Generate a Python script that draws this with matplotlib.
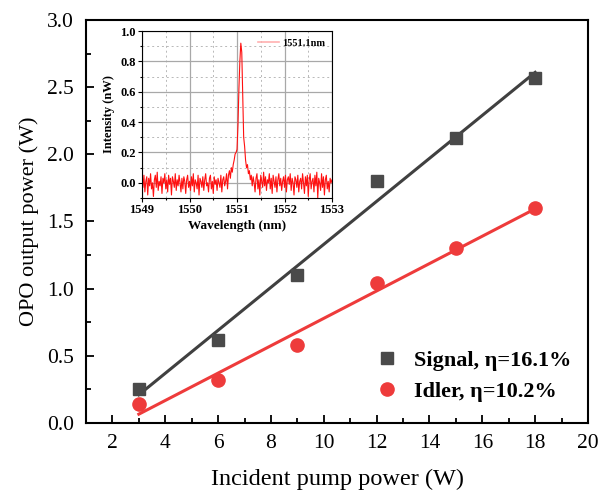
import numpy as np
import matplotlib
matplotlib.use("Agg")
import matplotlib.pyplot as plt
from matplotlib.ticker import MultipleLocator

# ---- data ----
pump_power = [3, 6, 9, 12, 15, 18]
signal_power = [0.25, 0.62, 1.10, 1.80, 2.12, 2.57]
idler_power = [0.14, 0.32, 0.58, 1.04, 1.30, 1.60]
signal_label = "Signal, η=16.1%"
idler_label = "Idler, η=10.2%"

wl_start, wl_step = 1549.0, 0.02
spectrum = [
    0.02, -0.03, 0.05, -0.06, 0.01, 0.04, -0.08, 0.03, -0.02, 0.06,
    -0.04, 0.00, -0.09, 0.02, 0.05, -0.03, 0.07, -0.05, 0.01, -0.02,
    0.04, -0.07, 0.03, 0.00, 0.06, -0.04, 0.02, -0.06, 0.05, -0.01,
    0.03, -0.08, 0.04, 0.01, -0.03, 0.06, -0.05, 0.02, -0.02, 0.05,
    0.00, -0.06, 0.03, -0.04, 0.04, 0.01, -0.07, 0.02, 0.05, -0.03,
    0.01, -0.05, 0.04, -0.02, 0.06, -0.06, 0.02, 0.00, -0.04, 0.05,
    -0.08, 0.03, 0.01, -0.03, 0.04, -0.05, 0.02, 0.06, -0.02, 0.00,
    -0.06, 0.03, 0.05, -0.04, 0.01, -0.07, 0.04, -0.01, 0.02, -0.05,
    0.03, 0.00, -0.03, 0.05, -0.06, 0.02, 0.04, -0.02, 0.01, 0.06,
    -0.04, 0.05, 0.08, 0.03, 0.10, 0.07, 0.12, 0.15, 0.19, 0.20,
    0.22, 0.38, 0.62, 0.80, 0.92, 0.86, 0.58, 0.30, 0.24, 0.15,
    0.10, 0.12, 0.06, 0.08, 0.02, 0.05, -0.02, 0.04, 0.00, -0.06,
    0.03, 0.06, -0.04, 0.02, -0.08, 0.05, 0.01, -0.03, 0.07, -0.02,
    0.04, -0.05, 0.02, 0.00, 0.06, -0.04, 0.03, -0.07, 0.05, 0.01,
    -0.03, 0.04, -0.06, 0.02, 0.06, -0.02, 0.03, -0.05, 0.01, 0.04,
    -0.03, 0.05, -0.06, 0.02, 0.04, -0.01, 0.06, -0.05, 0.03, 0.00,
    -0.08, 0.04, 0.02, -0.03, 0.05, -0.06, 0.01, 0.03, -0.04, 0.06,
    0.00, -0.07, 0.04, -0.02, 0.05, -0.09, 0.02, 0.06, -0.04, 0.01,
    0.03, -0.06, 0.05, -0.02, 0.07, -0.10, 0.03, 0.00, -0.05, 0.06,
    -0.03, 0.04, -0.08, 0.02, 0.05, -0.04, 0.01, -0.06, 0.03, 0.00,
    0.02,
]
spectrum_label = "1551.1nm"

plt.rcParams['font.family'] = ['Liberation Serif', 'DejaVu Serif']
plt.rcParams['mathtext.fontset'] = 'stix'

fig = plt.figure(figsize=(5.98, 4.97), dpi=100)
ax = fig.add_axes([0.1438, 0.1489, 0.9833 - 0.1438, 0.9598 - 0.1489])

dark = '#4a4a4a'
red = '#ee3b3b'

x = np.array(pump_power, dtype=float)
ax.plot(x, signal_power, 's', color=dark, ms=8, label=signal_label, zorder=3)
ax.plot(x, idler_power, 'o', color=red, ms=9.5, label=idler_label, zorder=3)
ps = np.polyfit(x, signal_power, 1)
pi = np.polyfit(x, idler_power, 1)
ax.plot(x, np.polyval(ps, x), '-', color='#404040', lw=2.2, zorder=2)
ax.plot(x, np.polyval(pi, x), '-', color=red, lw=2.2, zorder=2)

ax.set_xlim(1, 20)
ax.set_ylim(0, 3.0)
ax.xaxis.set_major_locator(MultipleLocator(2))
ax.xaxis.set_minor_locator(MultipleLocator(1))
ax.yaxis.set_major_locator(MultipleLocator(0.5))
ax.yaxis.set_minor_locator(MultipleLocator(0.25))
ax.yaxis.set_major_formatter(matplotlib.ticker.FormatStrFormatter('%.1f'))
ax.tick_params(which='both', direction='in', top=False, right=False, labelsize=15.5, width=1.3)
ax.tick_params(which='major', length=6)
ax.tick_params(which='minor', length=3.5)
ax.tick_params(axis='y', which='major', pad=8.5)
ax.tick_params(axis='x', which='major', pad=8)
for s in ax.spines.values():
    s.set_linewidth(1.5)
ax.set_xlabel('Incident pump power (W)', fontsize=17.5, labelpad=11)
ax.set_ylabel('OPO output power (W)', fontsize=16, labelpad=6)

leg = ax.legend(loc='lower right', bbox_to_anchor=(1.006, 0.003), frameon=False,
                prop={'weight': 'bold', 'size': 16}, handletextpad=0.6,
                labelspacing=0.45, handlelength=1.2)

# ---- inset ----
ins = fig.add_axes([0.2375, 0.6016, 0.5552 - 0.2375, 0.9376 - 0.6016])
wl = wl_start + wl_step * np.arange(len(spectrum))
line, = ins.plot(wl, spectrum, '-', color='#ff1010', lw=0.8, label=spectrum_label)
ins.set_xlim(1549, 1553)
ins.set_ylim(-0.1, 1.0)
ins.xaxis.set_major_locator(MultipleLocator(1))
ins.xaxis.set_minor_locator(MultipleLocator(0.5))
ins.yaxis.set_major_locator(MultipleLocator(0.2))
ins.yaxis.set_minor_locator(MultipleLocator(0.1))
ins.yaxis.set_major_formatter(matplotlib.ticker.FormatStrFormatter('%.1f'))
ins.grid(which='major', color='#a8a8a8', lw=0.9, ls='-')
ins.grid(which='minor', color='#b8b8b8', lw=0.7, ls=(0, (2, 3)))
ins.set_axisbelow(True)
ins.tick_params(which='both', direction='out', labelsize=9, width=0.8)
ins.tick_params(which='major', length=3)
ins.tick_params(which='minor', length=1.5)
for lab in ins.get_xticklabels() + ins.get_yticklabels():
    lab.set_fontweight('bold')
ins.tick_params(axis='y', pad=1.5)
ins.tick_params(axis='x', pad=1.5)
for s in ins.spines.values():
    s.set_linewidth(0.8)
ins.set_xlabel('Wavelength (nm)', fontsize=9.5, fontweight='bold', labelpad=3)
ins.set_ylabel('Intensity (nW)', fontsize=9, fontweight='bold', labelpad=4)
ileg = ins.legend(loc='upper right', frameon=False, prop={'weight': 'bold', 'size': 7.5},
                  handlelength=2.0, handletextpad=0.3, borderaxespad=0.3)
ileg.legend_handles[0].set_color('#ffb0b0')
ileg.legend_handles[0].set_linewidth(1.2)

fig.savefig('out.png', dpi=100)
